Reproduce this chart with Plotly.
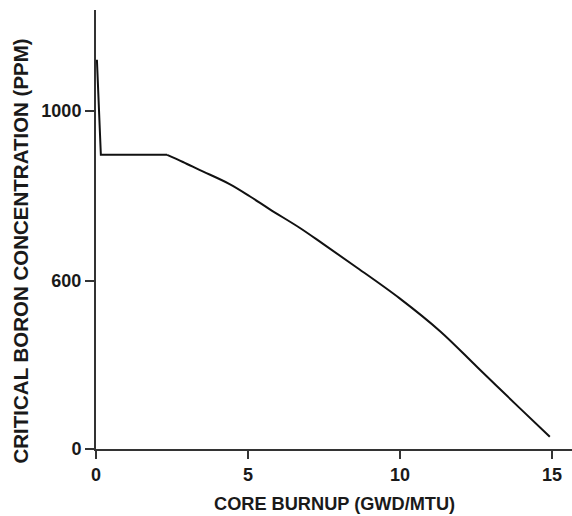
import plotly.graph_objects as go

# Core burnup (GWD/MTU)
burnup = [0.03, 0.16, 2.34, 2.86, 3.42, 4.41, 5.07, 5.72, 6.71, 7.47, 8.52,
          9.99, 11.32, 12.53, 13.95, 14.93]
# Critical boron concentration (PPM), read against the 0 and 1000 ticks
boron = [1150, 869, 869, 848, 824, 782, 746, 708, 653, 606, 540,
         445, 348, 243, 120, 36]

x_tick_vals = [0, 5, 10, 15]
x_tick_text = ["0", "5", "10", "15"]
y_tick_vals = [0, 497, 1000]
y_tick_text = ["0", "600", "1000"]

FONT = "Liberation Sans, Arial, sans-serif"
TXT = "#1a1a1a"
LINE = dict(color="#111111", width=2)

fig = go.Figure()
# drop at start-up and flat plateau (sharp corners)
fig.add_trace(go.Scatter(x=burnup[:3], y=boron[:3], mode="lines",
                         line=LINE, showlegend=False))
# smooth depletion curve
fig.add_trace(go.Scatter(x=burnup[2:], y=boron[2:], mode="lines",
                         line=dict(shape="spline", smoothing=1.0, **LINE),
                         showlegend=False))

axis_common = dict(showgrid=False, zeroline=False, showline=True, linecolor="#333333",
                   linewidth=2, ticks="outside", tickwidth=2, tickcolor="#333333",
                   tickfont=dict(size=18, family=FONT, color=TXT, weight="bold"),
                   fixedrange=True)

fig.update_layout(
    width=572, height=516,
    margin=dict(l=96, r=0, t=10, b=67, autoexpand=False),
    paper_bgcolor="white", plot_bgcolor="white",
    font=dict(family=FONT, color=TXT),
    xaxis=dict(range=[0, 15.66], tickvals=x_tick_vals, ticktext=x_tick_text,
               ticklen=8, **axis_common),
    yaxis=dict(range=[0, 1297], tickvals=y_tick_vals, ticktext=y_tick_text,
               ticklen=9, **axis_common),
    annotations=[
        dict(text="CORE BURNUP (GWD/MTU)", xref="paper", yref="paper",
             x=0.5, y=0, xanchor="center", yanchor="middle", yshift=-55,
             showarrow=False, font=dict(size=18.2, family=FONT, color=TXT, weight="bold")),
        dict(text="CRITICAL BORON CONCENTRATION (PPM)", xref="paper", yref="paper",
             x=0, y=0.5, xanchor="center", yanchor="middle", xshift=-76, yshift=-22,
             textangle=-90, showarrow=False,
             font=dict(size=20.5, family=FONT, color=TXT, weight="bold")),
    ],
)

fig.write_html("out.html", config={"displayModeBar": False},
               post_script="document.body.style.margin='0';")
